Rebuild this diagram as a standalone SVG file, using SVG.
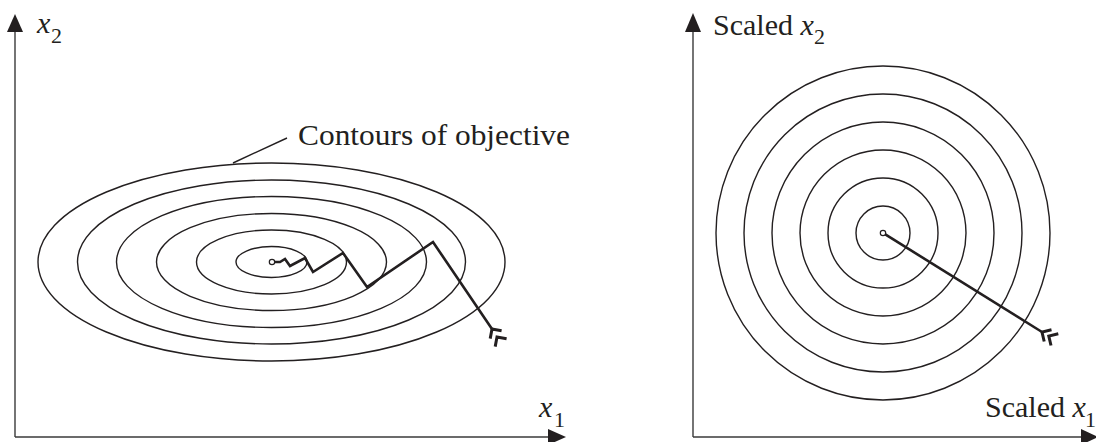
<svg xmlns="http://www.w3.org/2000/svg" width="1096" height="442" viewBox="0 0 1096 442">
<style>
.axis{stroke:#3a3a3a;stroke-width:1.4;fill:none}
.head{fill:#231f20}
.contour{stroke:#231f20;stroke-width:1.4;fill:none}
.path{stroke:#231f20;stroke-width:2.6;fill:none;stroke-linejoin:miter;stroke-linecap:butt}
.fletch{stroke:#231f20;stroke-width:3;fill:none;stroke-linecap:butt;stroke-linejoin:miter}
.lbl{font-family:"Liberation Serif","Times New Roman",serif;font-size:30px;fill:#231f20}
.var{font-family:"Liberation Serif","Times New Roman",serif;font-style:italic;font-size:30px;fill:#231f20}
.sub{font-family:"Liberation Serif","Times New Roman",serif;font-size:22px;fill:#231f20}
</style>
<rect width="1096" height="442" fill="#ffffff"/>

<g id="left-axes">
  <line class="axis" x1="15" y1="437" x2="15" y2="30"/>
  <polygon class="head" points="15,14 7,32 23,32"/>
  <line class="axis" x1="15" y1="437" x2="550" y2="437"/>
  <polygon class="head" points="566,437 548,429 548,445"/>
  <text class="var" x="37" y="33">x</text>
  <text class="sub" x="51" y="43">2</text>
  <text class="var" x="539" y="417">x</text>
  <text class="sub" x="554" y="427">1</text>
</g>

<g id="left-contours">
  <ellipse class="contour" cx="271.5" cy="262" rx="233.5" ry="99"/>
  <ellipse class="contour" cx="271.5" cy="262" rx="194" ry="82"/>
  <ellipse class="contour" cx="271.5" cy="262" rx="155" ry="65.5"/>
  <ellipse class="contour" cx="271.5" cy="262" rx="115" ry="48.5"/>
  <ellipse class="contour" cx="271.5" cy="262" rx="75" ry="32"/>
  <ellipse class="contour" cx="271.5" cy="262" rx="35.5" ry="15.5"/>
</g>

<g id="contour-label">
  <line class="contour" x1="233" y1="163" x2="287" y2="138" stroke-width="1"/>
  <text class="lbl" x="298" y="145" textLength="272" lengthAdjust="spacingAndGlyphs">Contours of objective</text>
</g>

<g id="left-path">
  <circle cx="272" cy="262" r="2.7" fill="#fff" stroke="#231f20" stroke-width="1.2"/>
  <polyline class="path" points="492,329 433,242 367,287 343,253 313,272 305,258 290,266 285,259 280,262 274.7,262"/>
  <path class="fletch" d="M490.2,338.6 L492,329 L501.6,330.8 M495.2,346.6 L497,337 L506.6,338.8"/>
</g>

<g id="right-axes">
  <line class="axis" x1="693" y1="437" x2="693" y2="30"/>
  <polygon class="head" points="693,13 685,32 701,32"/>
  <line class="axis" x1="693" y1="437" x2="1082" y2="437"/>
  <polygon class="head" points="1098,437 1081,429 1081,445"/>
  <text class="lbl" x="713" y="35">Scaled <tspan class="var">x</tspan></text>
  <text class="sub" x="814" y="44">2</text>
  <text class="lbl" x="985" y="417">Scaled <tspan class="var">x</tspan></text>
  <text class="sub" x="1085" y="427">1</text>
</g>

<g id="right-contours">
  <circle class="contour" cx="883" cy="233" r="27"/>
  <circle class="contour" cx="883" cy="233" r="55"/>
  <circle class="contour" cx="883" cy="233" r="83"/>
  <circle class="contour" cx="883" cy="233" r="111"/>
  <circle class="contour" cx="883" cy="233" r="139"/>
  <circle class="contour" cx="883" cy="233" r="167"/>
</g>

<g id="right-path">
  <circle cx="883" cy="233" r="2.7" fill="#fff" stroke="#231f20" stroke-width="1.2"/>
  <line class="path" x1="1042" y1="332" x2="885.3" y2="234.4"/>
  <path class="fletch" d="M1044.2,341.5 L1042,332 L1051.5,329.8 M1051,345.5 L1048.8,336 L1058.3,333.8"/>
</g>
</svg>
